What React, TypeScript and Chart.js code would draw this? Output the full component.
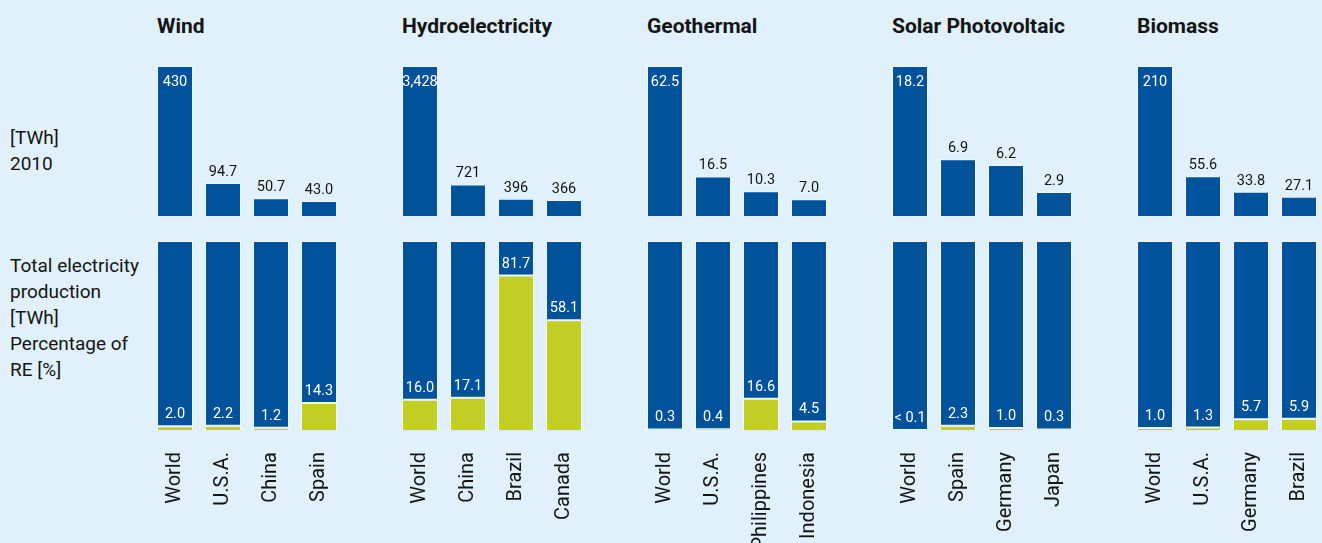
import React, { useEffect, useRef } from 'react';
import { Chart, registerables } from 'chart.js';

Chart.register(...registerables);

const FONT = 'Roboto, "DejaVu Sans Condensed", sans-serif';
const BLUE = '#00529b';
const GREEN = '#c3cf26';
const BG = '#e0f1fb';
const INK = '#141414';

// ---- data ----
const groupTitles = ['Wind', 'Hydroelectricity', 'Geothermal', 'Solar Photovoltaic', 'Biomass'];

const windCountries = ['World', 'U.S.A.', 'China', 'Spain'];
const windTWh = [430, 94.7, 50.7, 43.0];
const windShare = [2.0, 2.2, 1.2, 14.3];

const hydroCountries = ['World', 'China', 'Brazil', 'Canada'];
const hydroTWh = [3428, 721, 396, 366];
const hydroShare = [16.0, 17.1, 81.7, 58.1];

const geoCountries = ['World', 'U.S.A.', 'Philippines', 'Indonesia'];
const geoTWh = [62.5, 16.5, 10.3, 7.0];
const geoShare = [0.3, 0.4, 16.6, 4.5];

const solarCountries = ['World', 'Spain', 'Germany', 'Japan'];
const solarTWh = [18.2, 6.9, 6.2, 2.9];
const solarShare = [0.05, 2.3, 1.0, 0.3];

const bioCountries = ['World', 'U.S.A.', 'Germany', 'Brazil'];
const bioTWh = [210, 55.6, 33.8, 27.1];
const bioShare = [1.0, 1.3, 5.7, 5.9];

const topRowLabel = ['[TWh]', '2010'];
const bottomRowLabel = ['Total electricity', 'production', '[TWh]', 'Percentage of', 'RE [%]'];

const groups = [
  { title: groupTitles[0], countries: windCountries, twh: windTWh, share: windShare },
  { title: groupTitles[1], countries: hydroCountries, twh: hydroTWh, share: hydroShare },
  { title: groupTitles[2], countries: geoCountries, twh: geoTWh, share: geoShare },
  { title: groupTitles[3], countries: solarCountries, twh: solarTWh, share: solarShare },
  { title: groupTitles[4], countries: bioCountries, twh: bioTWh, share: bioShare },
];

// ---- layout ----
const GROUP_LEFT = 151;
const GROUP_STEP = 245;
const CHART_W = 192;
const TOP_Y = 66;
const TOP_H = 150;
const BOT_Y = 241;
const BOT_H = 302;
const AXIS_H = 113;

function fmtTop(v: number): string {
  if (v >= 1000) return v.toLocaleString('en-US');
  if (v >= 100) return String(Math.round(v));
  return v.toFixed(1);
}
function fmtShare(v: number): string {
  if (v < 0.1) return '< 0.1';
  return v.toFixed(1);
}

const valueLabels = {
  id: 'valueLabels',
  afterDatasetsDraw(chart: any, _args: any, opts: any) {
    const ctx = chart.ctx;
    const meta = chart.getDatasetMeta(0);
    const data = chart.data.datasets[0].data as number[];
    ctx.save();
    ctx.font = `14.5px ${FONT}`;
    ctx.textAlign = 'center';
    ctx.textBaseline = 'alphabetic';
    meta.data.forEach((bar: any, i: number) => {
      const v = data[i];
      if (opts.mode === 'top') {
        if (i === 0) {
          ctx.fillStyle = '#ffffff';
          ctx.fillText(fmtTop(v), bar.x, bar.y + 20);
        } else {
          ctx.fillStyle = INK;
          ctx.fillText(fmtTop(v), bar.x, bar.y - 7);
        }
      } else {
        ctx.fillStyle = '#ffffff';
        ctx.fillText(fmtShare(v), bar.x, bar.y - 8);
      }
    });
    ctx.restore();
  },
};

function TopChart({ countries, twh }: { countries: string[]; twh: number[] }) {
  const ref = useRef<HTMLCanvasElement | null>(null);
  useEffect(() => {
    if (!ref.current) return;
    const chart = new Chart(ref.current, {
      type: 'bar',
      data: {
        labels: countries,
        datasets: [
          {
            data: twh,
            backgroundColor: BLUE,
            borderColor: 'rgba(255,255,255,0.5)',
            borderWidth: 1,
            borderSkipped: 'bottom',
            barPercentage: 0.75,
            categoryPercentage: 1,
          },
        ],
      },
      options: {
        responsive: false,
        animation: false,
        layout: { padding: 0 },
        plugins: {
          legend: { display: false },
          tooltip: { enabled: false },
          valueLabels: { mode: 'top' },
        } as any,
        scales: {
          x: { display: false },
          y: { display: false, min: 0, max: twh[0] },
        },
      },
      plugins: [valueLabels],
    });
    return () => chart.destroy();
  }, []);
  return <canvas ref={ref} width={CHART_W} height={TOP_H} />;
}

function BottomChart({ countries, share }: { countries: string[]; share: number[] }) {
  const ref = useRef<HTMLCanvasElement | null>(null);
  useEffect(() => {
    if (!ref.current) return;
    const rest = share.map((s) => 100 - s);
    const chart = new Chart(ref.current, {
      type: 'bar',
      data: {
        labels: countries,
        datasets: [
          {
            data: share,
            backgroundColor: GREEN,
            borderColor: 'rgba(255,255,255,0.6)',
            borderWidth: 1,
            borderSkipped: 'bottom',
            barPercentage: 0.75,
            categoryPercentage: 1,
          },
          {
            data: rest,
            backgroundColor: BLUE,
            borderColor: 'rgba(255,255,255,0.5)',
            borderWidth: 1,
            borderSkipped: false,
            barPercentage: 0.75,
            categoryPercentage: 1,
          },
        ],
      },
      options: {
        responsive: false,
        animation: false,
        layout: { padding: 0 },
        plugins: {
          legend: { display: false },
          tooltip: { enabled: false },
          valueLabels: { mode: 'bottom' },
        } as any,
        scales: {
          x: {
            stacked: true,
            grid: { display: false },
            border: { display: false },
            ticks: {
              autoSkip: false,
              minRotation: 90,
              maxRotation: 90,
              padding: 14,
              color: INK,
              font: { family: FONT, size: 20 },
            },
            afterFit: (axis: any) => {
              axis.height = AXIS_H;
              axis.paddingLeft = 0;
              axis.paddingRight = 0;
            },
          },
          y: { stacked: true, display: false, min: 0, max: 100 },
        },
      },
      plugins: [valueLabels],
    });
    return () => chart.destroy();
  }, []);
  return <canvas ref={ref} width={CHART_W} height={BOT_H} />;
}

export default function App() {
  const textStyle: React.CSSProperties = {
    position: 'absolute',
    fontFamily: FONT,
    fontSize: 19,
    lineHeight: '26px',
    color: INK,
    whiteSpace: 'nowrap',
  };
  return (
    <div
      style={{
        position: 'fixed',
        left: 0,
        top: 0,
        width: 1322,
        height: 543,
        background: BG,
        overflow: 'hidden',
      }}
    >
      <div style={{ ...textStyle, left: 10, top: 125 }}>
        {topRowLabel.map((t) => (
          <div key={t}>{t}</div>
        ))}
      </div>
      <div style={{ ...textStyle, left: 10, top: 253 }}>
        {bottomRowLabel.map((t, i) => (
          <div key={i}>{t}</div>
        ))}
      </div>
      {groups.map((g, i) => {
        const left = GROUP_LEFT + GROUP_STEP * i;
        return (
          <React.Fragment key={g.title}>
            <div style={{ ...textStyle, left: left + 6, top: 13, fontWeight: 'bold', fontSize: 21 }}>{g.title}</div>
            <div style={{ position: 'absolute', left, top: TOP_Y, width: CHART_W, height: TOP_H }}>
              <TopChart countries={g.countries} twh={g.twh} />
            </div>
            <div style={{ position: 'absolute', left, top: BOT_Y, width: CHART_W, height: BOT_H }}>
              <BottomChart countries={g.countries} share={g.share} />
            </div>
          </React.Fragment>
        );
      })}
    </div>
  );
}
